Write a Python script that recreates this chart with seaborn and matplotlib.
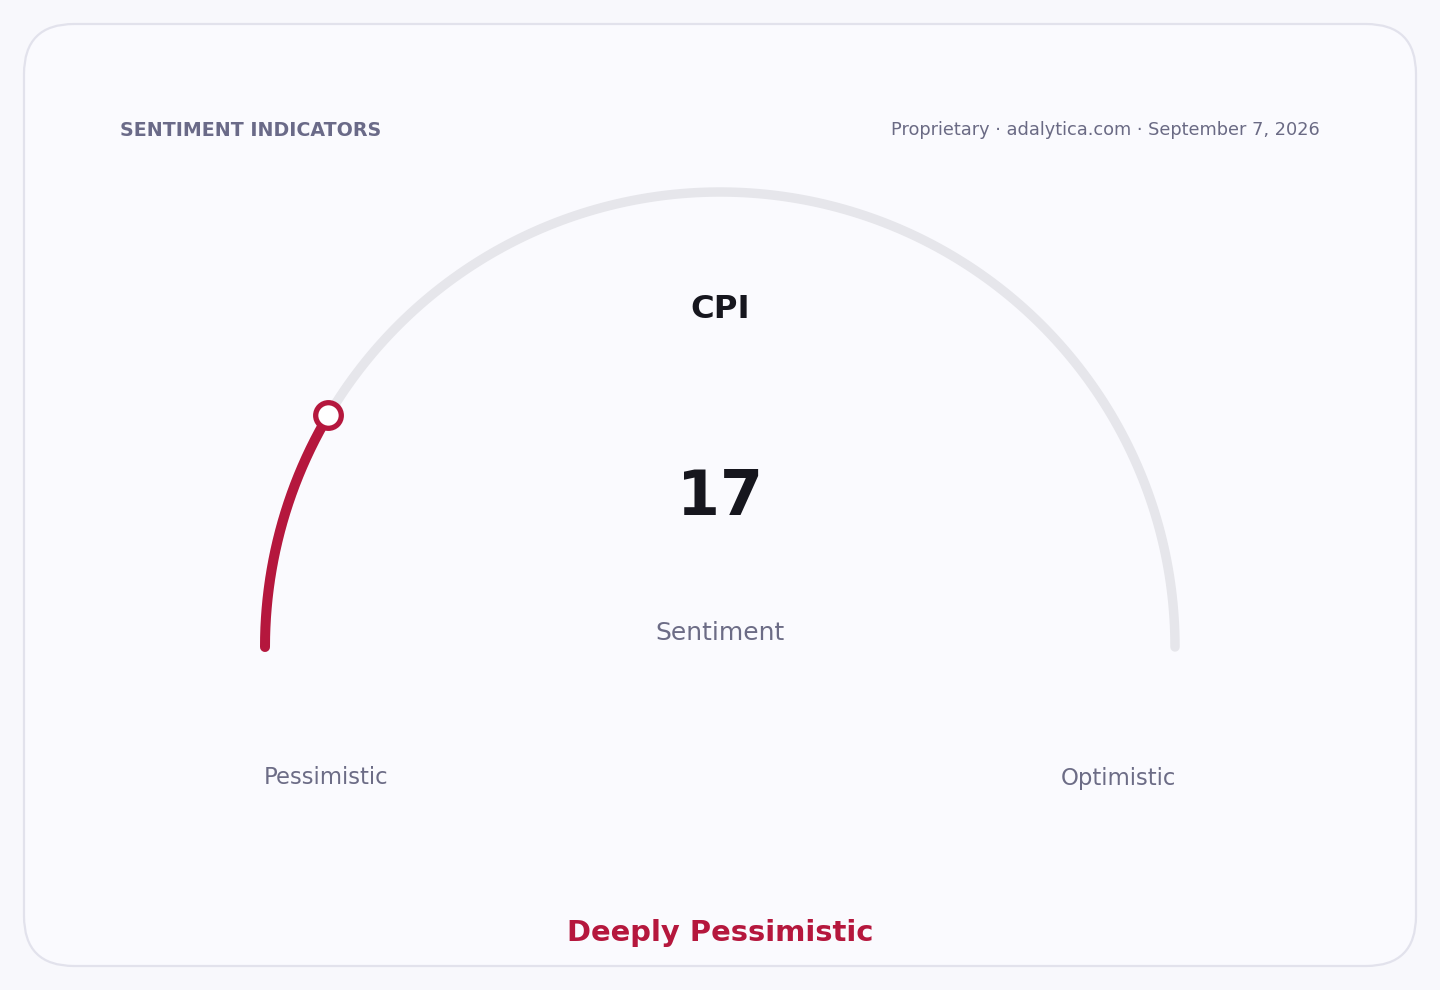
import numpy as np
import pandas as pd
import matplotlib
matplotlib.use('Agg')
import matplotlib.pyplot as plt
from matplotlib.patches import FancyBboxPatch
import seaborn as sns

# chart data
indicator = 'CPI'
value = 17
scale_min, scale_max = 0, 100
scale_labels = ['Pessimistic', 'Optimistic']
value_label = 'Sentiment'
verdict = 'Deeply Pessimistic'
header_left = 'SENTIMENT INDICATORS'
header_right = 'Proprietary \u00b7 adalytica.com \u00b7 September 7, 2026'

RED = '#b5173d'
TRACK = '#e6e6eb'
MUTED = '#6c6c86'
DARK = '#16161e'

sns.set_theme(style='white')
plt.rcParams['font.family'] = ['DejaVu Sans']

fig = plt.figure(figsize=(14.4, 9.9), dpi=100)
fig.patch.set_facecolor('#f8f8fc')
ax = fig.add_axes([0, 0, 1, 1])
ax.set_xlim(0, 1440)
ax.set_ylim(990, 0)
ax.axis('off')

# card
card = FancyBboxPatch((24, 24), 1392, 942, boxstyle='round,pad=0,rounding_size=50',
                      facecolor='#fafafe', edgecolor='#e2e2ec', linewidth=1.6, zorder=0)
ax.add_patch(card)

# gauge geometry (pixel units)
cx, cy, r = 720, 647, 455

def arc_frame(v0, v1, n=200):
    frac = (np.linspace(v0, v1, n) - scale_min) / (scale_max - scale_min)
    ang = np.pi * (1 - frac)
    return pd.DataFrame({'x': cx + r * np.cos(ang), 'y': cy - r * np.sin(ang)})

track = arc_frame(scale_min, scale_max)
filled = arc_frame(scale_min, value)

sns.lineplot(data=track, x='x', y='y', sort=False, ax=ax, color=TRACK,
             linewidth=6.8, solid_capstyle='round', zorder=1)
sns.lineplot(data=filled, x='x', y='y', sort=False, ax=ax, color=RED,
             linewidth=7.2, solid_capstyle='round', zorder=2)
tip = filled.iloc[[-1]]
sns.scatterplot(data=tip, x='x', y='y', ax=ax, s=340, color='white',
                edgecolor=RED, linewidth=3.8, zorder=3)

ax.set_xlim(0, 1440)
ax.set_ylim(990, 0)
ax.axis('off')

# texts
ax.text(120, 130, header_left, ha='left', va='center', fontsize=13.7,
        fontweight='bold', color='#6a6a88')
ax.text(1320, 130, header_right, ha='right', va='center', fontsize=12.8,
        color='#6a6a84')
ax.text(720, 309, indicator, ha='center', va='center', fontsize=23.2,
        fontweight='bold', color=DARK)
ax.text(720, 498, str(value), ha='center', va='center', fontsize=44.6,
        fontweight='bold', color=DARK)
ax.text(720, 633, value_label, ha='center', va='center', fontsize=18,
        color=MUTED)
ax.text(264, 778, scale_labels[0], ha='left', va='center', fontsize=16.4,
        color=MUTED)
ax.text(1176, 778, scale_labels[1], ha='right', va='center', fontsize=16.4,
        color=MUTED)
ax.text(720, 933, verdict, ha='center', va='center', fontsize=20.9,
        fontweight='bold', color=RED)

if ax.get_legend() is not None:
    ax.get_legend().remove()

fig.savefig('out.png', dpi=100, facecolor=fig.get_facecolor())
